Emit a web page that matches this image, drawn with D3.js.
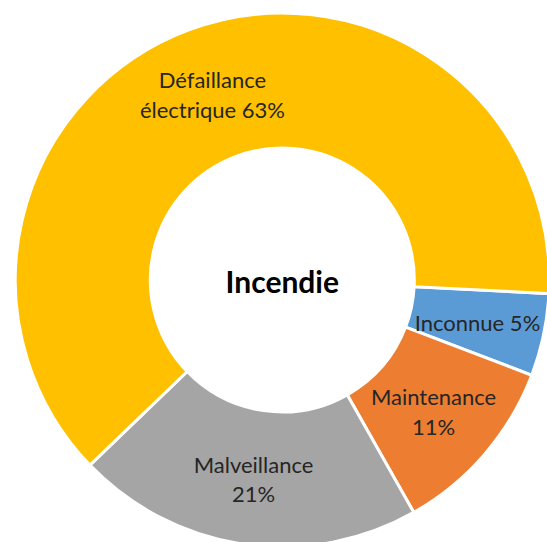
<!DOCTYPE html>
<html>
<head>
<meta charset="utf-8">
<script src="https://cdn.jsdelivr.net/npm/d3@7"></script>
<style>
  html, body { margin: 0; padding: 0; background: #fff; }
  svg { display: block; }
</style>
</head>
<body>
<svg id="chart" width="547" height="542"></svg>
<script>
// Causes of fire, listed clockwise from the first slice
const categories = ["Inconnue", "Maintenance", "Malveillance", "Défaillance électrique"];
const shares = [5, 11, 21, 63];
const colors = ["#5B9BD5", "#ED7D31", "#A5A5A5", "#FFC000"];
const centerTitle = "Incendie";

const width = 547, height = 542;
const cx = 282.3, cy = 280;
const outerR = 267, innerR = 132;
const startDeg = 92.9;
const labelFont = "Lato, 'Carlito', Calibri, sans-serif";
const labelSize = 22;
const lineHeight = 29.3;
const wrapWidth = 150;

const svg = d3.select("#chart");
const g = svg.append("g").attr("transform", `translate(${cx},${cy})`);

const start = startDeg * Math.PI / 180;
const pie = d3.pie()
  .sort(null)
  .value(d => d.value)
  .startAngle(start)
  .endAngle(start + 2 * Math.PI);

const data = categories.map((c, i) => ({ name: c, value: shares[i], color: colors[i] }));
const arcs = pie(data);

const arc = d3.arc().innerRadius(innerR).outerRadius(outerR);

g.selectAll("path.slice")
  .data(arcs)
  .join("path")
  .attr("class", "slice")
  .attr("d", arc)
  .attr("fill", d => d.data.color)
  .attr("stroke", "#fff")
  .attr("stroke-width", 3)
  .attr("stroke-linejoin", "miter");

// Data labels: "name pct%" word-wrapped and centred on the ring segment
const labels = g.selectAll("text.label")
  .data(arcs)
  .join("text")
  .attr("class", "label")
  .attr("text-anchor", "middle")
  .style("font-family", labelFont)
  .style("font-size", labelSize + "px")
  .attr("fill", "#262626");

labels.each(function (d) {
  const t = d3.select(this);
  const words = (d.data.name + " " + d.data.value + "%").split(" ");
  const lines = [];
  let cur = [];
  const probe = t.append("tspan");
  words.forEach(w => {
    const trial = cur.concat([w]).join(" ");
    probe.text(trial);
    if (cur.length && probe.node().getComputedTextLength() > wrapWidth) {
      lines.push(cur.join(" "));
      cur = [w];
    } else {
      cur.push(w);
    }
  });
  if (cur.length) lines.push(cur.join(" "));
  probe.remove();

  const [x, y] = arc.centroid(d);
  const n = lines.length;
  lines.forEach((line, i) => {
    t.append("tspan")
      .attr("x", x)
      .attr("y", y + 10 + (i - (n - 1) / 2) * lineHeight)
      .text(line);
  });
});

g.append("text")
  .attr("text-anchor", "middle")
  .attr("x", 0)
  .attr("y", 13.3)
  .style("font-family", labelFont)
  .style("font-size", "30px")
  .style("font-weight", "bold")
  .attr("fill", "#000")
  .text(centerTitle);
</script>
</body>
</html>
